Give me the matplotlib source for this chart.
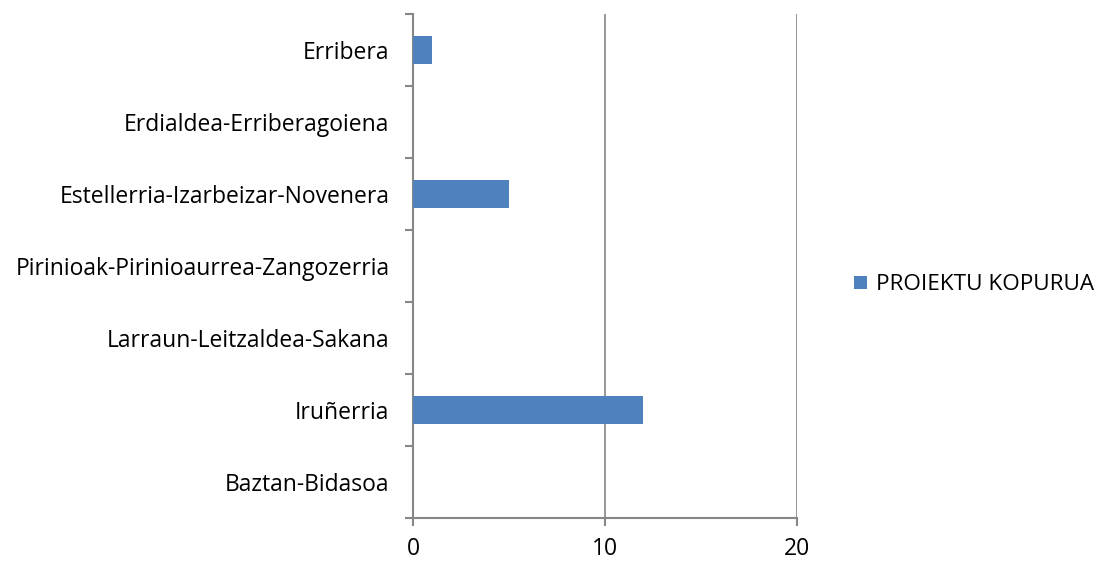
import matplotlib.pyplot as plt
import numpy as np

plt.rcParams['font.family'] = ['Open Sans', 'DejaVu Sans']

regions = ['Baztan-Bidasoa', 'Iruñerria', 'Larraun-Leitzaldea-Sakana',
           'Pirinioak-Pirinioaurrea-Zangozerria', 'Estellerria-Izarbeizar-Novenera',
           'Erdialdea-Erriberagoiena', 'Erribera']
projects = [0, 12, 0, 0, 5, 0, 1]
x_ticks = [0, 10, 20]

axis_grey = '#868686'
bar_blue = '#4F81BD'

fig = plt.figure(figsize=(11.02, 5.62), dpi=100)
ax = fig.add_axes([413 / 1102, 1 - 518 / 562, (797 - 413) / 1102, (518 - 14) / 562])

y = np.arange(len(regions))
ax.barh(y, projects, height=0.4, color=bar_blue, label='PROIEKTU KOPURUA', zorder=3)

ax.set_xlim(0, 20)
ax.set_ylim(-0.5, len(regions) - 0.5)
ax.set_xticks(x_ticks)
ax.set_xticklabels([str(t) for t in x_ticks], fontsize=16.5)
ax.set_yticks(y)
ax.set_yticklabels(regions, fontsize=16.5)
ax.set_yticks(np.arange(len(regions) + 1) - 0.5, minor=True)

ax.tick_params(axis='y', which='major', length=0, pad=17)
ax.tick_params(axis='y', which='minor', length=6, width=1.5, color=axis_grey, direction='out')
ax.tick_params(axis='x', length=6, width=1.5, color=axis_grey, direction='out', pad=8)

ax.grid(axis='x', color=axis_grey, linewidth=1.2, zorder=0)
for side in ['top', 'right']:
    ax.spines[side].set_visible(False)
for side in ['left', 'bottom']:
    ax.spines[side].set_color(axis_grey)
    ax.spines[side].set_linewidth(1.5)

fig.legend(loc='center left', bbox_to_anchor=(834 / 1102, 1 - 285 / 562), frameon=False,
           fontsize=16.2, handlelength=0.55, handleheight=0.55, handletextpad=0.4)

fig.savefig('out.png', dpi=100)
